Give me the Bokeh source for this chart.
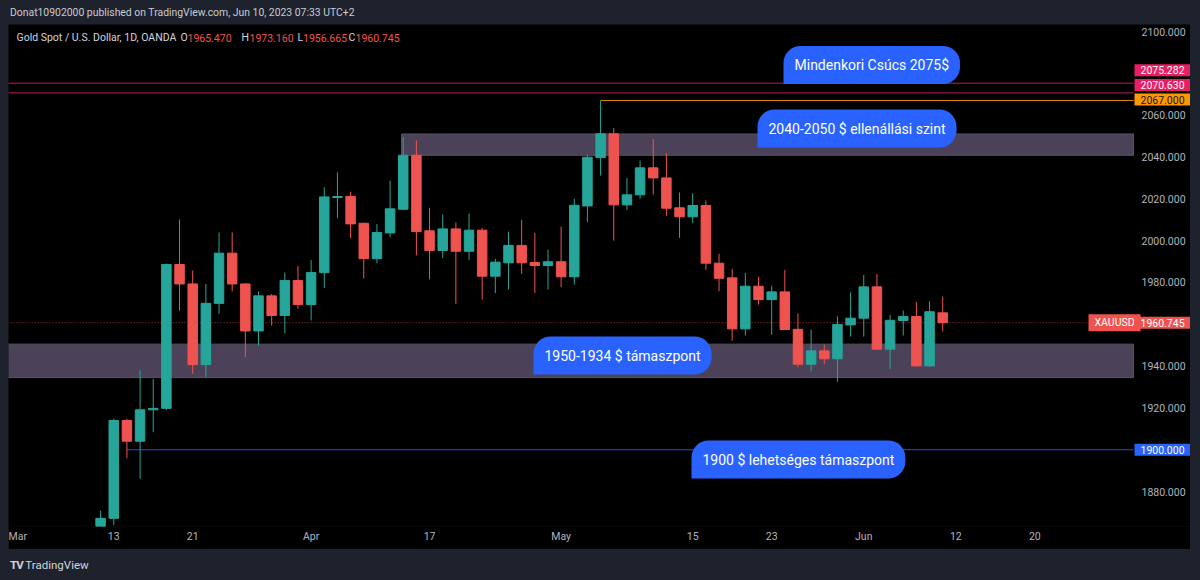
from bokeh.plotting import figure
from bokeh.models import ColumnDataSource, Range1d, FixedTicker, Label, Div
from bokeh.layouts import column
from bokeh.embed import file_html
from bokeh.resources import INLINE
from bokeh.core.properties import value

# ---------------- data (XAUUSD daily, OANDA) ----------------
dates = ["Mar 10", "Mar 13", "Mar 14", "Mar 15", "Mar 16", "Mar 17", "Mar 20", "Mar 21", "Mar 22", "Mar 23",
         "Mar 24", "Mar 27", "Mar 28", "Mar 29", "Mar 30", "Mar 31", "Apr 3", "Apr 4", "Apr 5", "Apr 6",
         "Apr 10", "Apr 11", "Apr 12", "Apr 13", "Apr 14", "Apr 17", "Apr 18", "Apr 19", "Apr 20", "Apr 21",
         "Apr 24", "Apr 25", "Apr 26", "Apr 27", "Apr 28", "May 1", "May 2", "May 3", "May 4", "May 5",
         "May 8", "May 9", "May 10", "May 11", "May 12", "May 15", "May 16", "May 17", "May 18", "May 19",
         "May 22", "May 23", "May 24", "May 25", "May 26", "May 29", "May 30", "May 31", "Jun 1", "Jun 2",
         "Jun 5", "Jun 6", "Jun 7", "Jun 8", "Jun 9"]
opens = [1832.0, 1867.2, 1914.0, 1904.1, 1919.1, 1919.8, 1988.6, 1979.3, 1940.7, 1970.0,
         1994.0, 1979.3, 1956.8, 1973.6, 1964.2, 1980.9, 1969.4, 1984.7, 2020.6, 2021.2,
         2008.3, 1991.4, 2003.7, 2015.0, 2040.8, 2004.7, 1995.3, 2005.6, 1994.9, 2005.0,
         1983.0, 1989.4, 1997.7, 1989.5, 1988.1, 1989.9, 1982.7, 2016.6, 2039.7, 2051.1,
         2017.1, 2021.9, 2034.8, 2030.0, 2015.7, 2011.4, 2016.8, 1989.2, 1982.2, 1957.8,
         1978.2, 1971.8, 1975.5, 1957.6, 1940.9, 1947.3, 1943.5, 1959.7, 1962.9, 1977.9,
         1948.1, 1961.8, 1963.7, 1940.1, 1965.47]
highs = [1870.9, 1914.8, 1914.8, 1937.9, 1933.9, 1989.0, 2010.1, 1985.7, 1979.3, 2003.9,
         2003.9, 1979.6, 1975.7, 1974.5, 1984.7, 1987.9, 1990.8, 2025.5, 2032.6, 2023.4,
         2008.6, 2007.9, 2028.7, 2049.5, 2047.9, 2015.7, 2012.5, 2008.7, 2013.0, 2006.0,
         1991.3, 2004.3, 2010.0, 2003.7, 1995.7, 2006.7, 2020.0, 2041.0, 2067.0, 2053.8,
         2029.9, 2038.3, 2048.5, 2042.0, 2023.0, 2022.7, 2019.2, 1993.7, 1986.5, 1984.6,
         1982.8, 1978.4, 1986.0, 1965.3, 1957.5, 1950.3, 1963.8, 1975.3, 1983.6, 1984.1,
         1964.5, 1966.6, 1970.7, 1971.0, 1973.16]
lows = [1824.5, 1864.0, 1895.9, 1886.1, 1908.4, 1919.0, 1966.4, 1936.3, 1934.7, 1965.0,
        1975.8, 1944.2, 1949.8, 1959.4, 1955.7, 1967.4, 1961.8, 1977.4, 2010.7, 2001.3,
        1981.9, 1989.2, 2001.6, 2014.7, 1993.0, 1981.5, 1991.6, 1969.8, 1990.8, 1971.8,
        1974.9, 1976.6, 1984.1, 1974.9, 1976.6, 1977.7, 1979.0, 2008.8, 2031.1, 2000.0,
        2014.7, 2020.0, 2022.0, 2011.7, 2001.3, 2008.3, 1986.0, 1975.8, 1952.2, 1954.6,
        1969.4, 1954.9, 1957.2, 1939.5, 1937.5, 1940.9, 1932.5, 1954.1, 1954.1, 1948.0,
        1938.7, 1954.6, 1939.8, 1939.8, 1956.665]
closes = [1867.2, 1914.0, 1904.1, 1919.1, 1919.8, 1988.6, 1979.3, 1940.7, 1970.0, 1994.0,
          1979.3, 1956.8, 1973.6, 1964.2, 1980.9, 1969.4, 1984.7, 2020.9, 2021.1, 2008.0,
          1991.4, 2003.9, 2015.2, 2040.8, 2004.3, 1995.3, 2005.6, 1994.9, 2005.0, 1983.0,
          1989.7, 1997.7, 1989.4, 1988.1, 1989.9, 1982.7, 2016.9, 2039.9, 2051.1, 2017.1,
          2021.9, 2034.8, 2030.0, 2015.5, 2011.4, 2016.8, 1989.2, 1982.0, 1957.8, 1978.2,
          1971.8, 1975.5, 1957.5, 1940.9, 1947.3, 1943.5, 1959.9, 1962.9, 1977.9, 1948.1,
          1961.9, 1963.7, 1940.1, 1966.0, 1960.745]

time_ticks = [-7, 1, 7, 16, 25, 35, 45, 51, 58, 65, 71]
time_tick_labels = ["Mar", "13", "21", "Apr", "17", "May", "15", "23", "Jun", "12", "20"]
price_ticks = [1880, 1920, 1940, 1980, 2000, 2020, 2040, 2060, 2100]

ath_levels = [2075.282, 2070.630]
level_2067 = 2067.0
level_1900 = 1900.0
zone_upper = (2040.8, 2051.0)
zone_lower = (1934.5, 1950.5)
last_price = 1960.745

callout_texts = ["Mindenkori Csúcs 2075$", "2040-2050 $ ellenállási szint",
                 "1950-1934 $ támaszpont", "1900 $ lehetséges támaszpont"]

# ---------------- geometry (page pixels) ----------------
# pane = black panel from x 8 to 1190; price scale starts at x 1133
FIG_W, FIG_H = 1182, 525
FRAME_W, FRAME_H = 1182, 502
BAR_PX = 1125 / 85.5
X0 = -7.0
X1 = X0 + FRAME_W / BAR_PX
Y0, Y1 = 1863.3, 2103.35
SCALE_X = 1133

def dx(px):
    return X0 + (px - 8) * (X1 - X0) / FRAME_W

def dy(py):
    return Y1 - (py - 24) * (Y1 - Y0) / FRAME_H

UP, DOWN = "#26a69a", "#ef5350"
FONT = "Roboto"

idx = list(range(len(opens)))
colors = [UP if c >= o else DOWN for o, c in zip(opens, closes)]
src = ColumnDataSource(dict(
    x=idx, o=opens, h=highs, l=lows, c=closes, color=colors,
    top=[max(o, c) for o, c in zip(opens, closes)],
    bottom=[min(o, c) for o, c in zip(opens, closes)],
))

p = figure(width=FIG_W, height=FIG_H, x_range=Range1d(X0, X1), y_range=Range1d(Y0, Y1),
           output_backend="svg", toolbar_location=None, y_axis_location=None,
           background_fill_color="#000000", border_fill_color="#000000",
           min_border_left=0, min_border_right=0, min_border_top=0,
           min_border_bottom=FIG_H - FRAME_H, outline_line_color=None, margin=0)
p.grid.visible = False

# zones
p.quad(left=dx(401), right=dx(SCALE_X), bottom=zone_upper[0], top=zone_upper[1],
       fill_color="#4b4259", line_color="#55555e", line_width=1)
p.quad(left=X0 - 50, right=dx(SCALE_X), bottom=zone_lower[0], top=zone_lower[1],
       fill_color="#4b4259", line_color="#55555e", line_width=1)

# levels
p.segment(x0=[X0 - 50] * 2, y0=ath_levels, x1=[dx(SCALE_X)] * 2, y1=ath_levels,
          line_color="#c2185b", line_width=1)
p.segment(x0=[38], y0=[level_2067], x1=[dx(SCALE_X)], y1=[level_2067], line_color="#e08a00", line_width=1)
p.segment(x0=[2], y0=[level_1900], x1=[dx(SCALE_X)], y1=[level_1900], line_color="#1e4bf0", line_width=1)
p.segment(x0=[X0 - 50], y0=[last_price], x1=[dx(1088)], y1=[last_price], line_color="#b23b39",
          line_width=1, line_dash="1 2")

# candles
p.segment(x0="x", y0="h", x1="x", y1="l", color="color", line_width=1, source=src)
p.vbar(x="x", width=0.72, top="top", bottom="bottom", fill_color="color",
       line_color="color", line_width=1, source=src)

# time axis
p.xaxis.ticker = FixedTicker(ticks=time_ticks)
p.xaxis.major_label_overrides = dict(zip(time_ticks, time_tick_labels))
ax = p.xaxis[0]
ax.axis_line_color = None
ax.major_tick_line_color = None
ax.minor_tick_line_color = None
ax.major_tick_in = 0
ax.major_tick_out = 0
ax.major_label_text_color = "#b2b5be"
ax.major_label_text_font = FONT
ax.major_label_text_font_size = "10.5px"
ax.major_label_standoff = 3

# price scale labels
p.text(x=[dx(1141)] * len(price_ticks), y=price_ticks, text=[f"{t:.3f}" for t in price_ticks],
       text_color="#b2b5be", text_font=value(FONT), text_font_size="10.5px",
       text_align="left", text_baseline="middle")

# price tags on the scale
def tag(text, price, bg, fg, px, offset=0):
    p.add_layout(Label(x=dx(px), y=price, y_offset=offset, text=text, text_color=fg,
                       text_font=FONT, text_font_size="10.5px", text_align="left",
                       text_baseline="middle", background_fill_color=bg,
                       padding=dict(left=6, right=6, top=2, bottom=2)))

tag("2075.282", ath_levels[0], "#e91e63", "#ffffff", 1134, 13)
tag("2070.630", ath_levels[1], "#e91e63", "#ffffff", 1134, 8)
tag("2067.000", level_2067, "#ff9800", "#131722", 1134, 1)
tag("XAUUSD", last_price, "#ef5350", "#ffffff", 1088)
tag(f"{last_price:.3f}", last_price, "#ef5350", "#ffffff", 1134)
tag("1900.000", level_1900, "#2962ff", "#ffffff", 1134)

# callouts
callout_pos = [(783, 64.5), (757, 128), (533, 355), (691, 459)]
for txt, (px, py) in zip(callout_texts, callout_pos):
    p.add_layout(Label(x=dx(px), y=dy(py), text=txt, text_color="#ffffff",
                       text_font=FONT, text_font_size="14px", text_align="left",
                       text_baseline="middle", background_fill_color="#2962ff",
                       padding=dict(left=11, right=11, top=11, bottom=11),
                       border_radius=dict(top_left=17, top_right=17, bottom_right=17, bottom_left=0)))

# legend header inside pane
hdr = [("Gold Spot / U.S. Dollar, 1D, OANDA", 16, "#d1d4dc"),
       ("O", 180, "#d1d4dc"), (f"{opens[-1]:.3f}", 187, "#f05350"),
       ("H", 241, "#d1d4dc"), (f"{highs[-1]:.3f}", 249, "#f05350"),
       ("L", 297, "#d1d4dc"), (f"{lows[-1]:.3f}", 302.5, "#f05350"),
       ("C", 348, "#d1d4dc"), (f"{closes[-1]:.3f}", 355, "#f05350")]
for txt, px, col in hdr:
    p.add_layout(Label(x=dx(px), y=dy(37), text=txt, text_color=col, text_font=FONT,
                       text_font_size="10.5px", text_align="left", text_baseline="middle"))

header = Div(text='<div style="font-family:Roboto;font-size:10.4px;color:#c9cbd1;line-height:14px;'
                  'white-space:nowrap;padding-top:6px;padding-left:2px;">Donat10902000 published on '
                  'TradingView.com, Jun 10, 2023 07:33 UTC+2</div>', width=FIG_W, height=24, margin=0)
footer = Div(text='<div style="font-family:Roboto;font-size:11.5px;color:#d1d4dc;line-height:14px;'
                  'white-space:nowrap;padding-top:9px;padding-left:2px;"><b style="letter-spacing:-1px;">TV</b>'
                  ' TradingView</div>', width=FIG_W, height=30, margin=0)

layout = column(header, p, footer, spacing=0, margin=(0, 0, 0, 8))
html = file_html(layout, INLINE, title="Gold Spot / U.S. Dollar")
html = html.replace("</head>", "<style>html,body{background:#1e222d;}</style></head>", 1)
open("out.html", "w").write(html)
